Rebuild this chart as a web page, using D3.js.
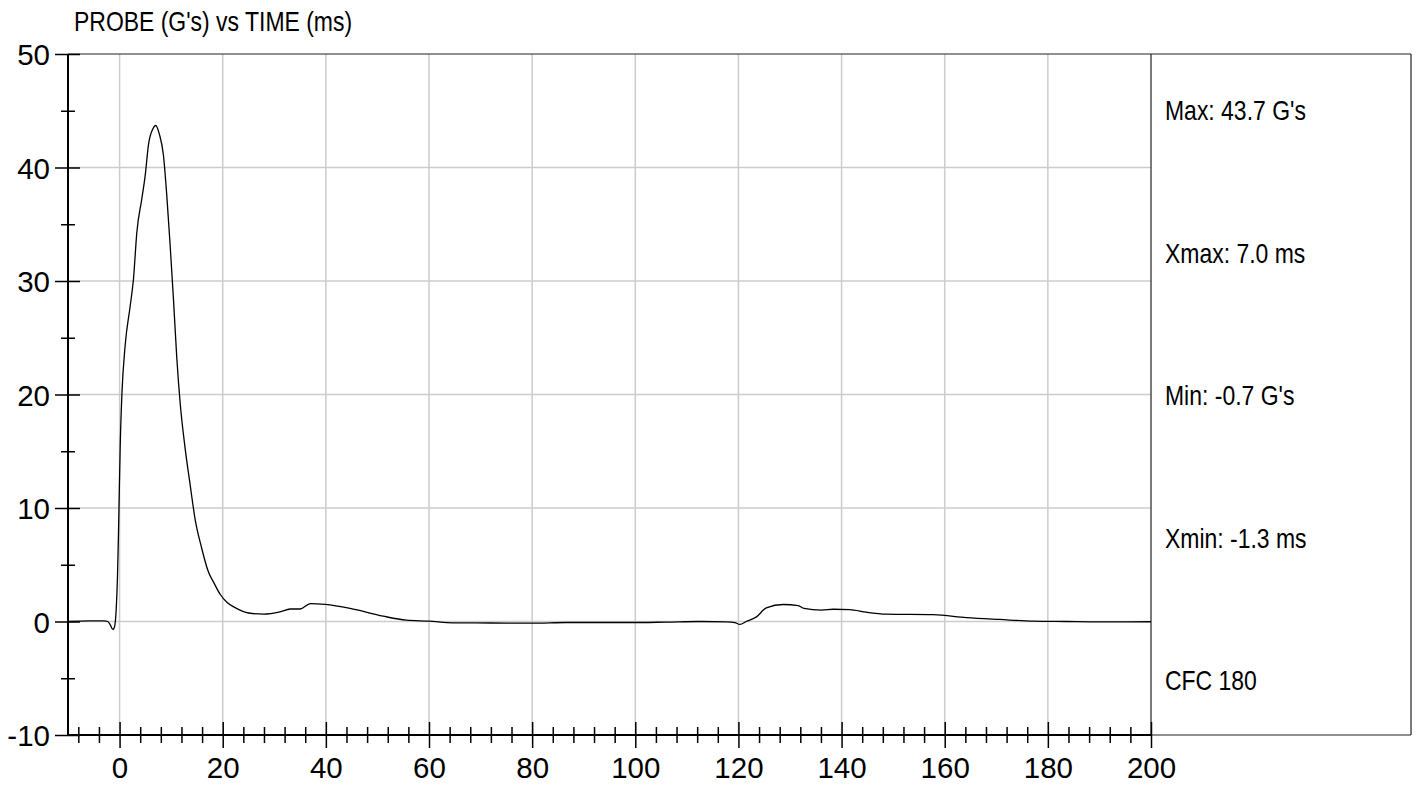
<!DOCTYPE html>
<html><head><meta charset="utf-8">
<script src="https://cdnjs.cloudflare.com/ajax/libs/d3/7.8.5/d3.min.js"></script>
<style>
html,body{margin:0;padding:0;background:#fff;}
svg{display:block;}
</style></head>
<body>
<svg id="chart" width="1416" height="785"></svg>
<script>
// ---- data ----
const title = "PROBE (G's) vs TIME (ms)";
const timeMs = [-10,-6,-3,-2.3,-1.8,-1.3,-1.0,-0.65,-0.4,-0.2,0.13,0.45,1.1,2.06,2.7,3.35,4.3,4.97,5.6,6.45,7.0,7.74,8.5,9.16,9.8,10.45,11.1,11.74,12.7,13.7,14.65,15.9,17.2,18.3,19.5,20.8,22.5,25,27.9,31.1,33.1,35.0,37.0,39.9,44.7,51.1,55.6,60,64.7,72,80.2,86.6,93,99.5,106,112.5,117.7,119.3,120.3,121.5,123.5,125.4,128.7,131.6,132.7,136.1,138.4,141.6,144.8,148.7,157.8,164.2,170.7,177.2,183.6,190,200];
const probeG = [0.0,0.05,0.05,0.0,-0.3,-0.7,-0.5,1.1,4.0,8.0,15.6,20.0,24.4,27.8,30.2,34.3,37.2,39.3,42.0,43.4,43.7,42.9,41.1,37.5,33.2,28.4,23.2,19.3,15.3,12.0,9.0,6.5,4.4,3.4,2.4,1.7,1.2,0.75,0.65,0.85,1.1,1.1,1.58,1.5,1.15,0.47,0.12,0.03,-0.12,-0.13,-0.15,-0.09,-0.09,-0.09,-0.05,0.0,-0.03,-0.1,-0.26,0.0,0.41,1.2,1.5,1.4,1.15,1.0,1.08,1.05,0.82,0.65,0.6,0.35,0.18,0.03,0.0,-0.03,-0.02];
const xMajorTicks = [0,20,40,60,80,100,120,140,160,180,200];
const xMinorTicks = [-8,-4,4,8,12,16,24,28,32,36,44,48,52,56,64,68,72,76,84,88,92,96,104,108,112,116,124,128,132,136,144,148,152,156,164,168,172,176,184,188,192,196];
const yMajorTicks = [-10,0,10,20,30,40,50];
const yMinorTicks = [-5,5,15,25,35,45];
const statLabels = ["Max: 43.7 G's","Xmax: 7.0 ms","Min: -0.7 G's","Xmin: -1.3 ms","CFC 180"];

// ---- layout ----
const svg = d3.select("#chart");
const L = 68, R = 1151, T = 54, B = 735, boxR = 1411;
const x = d3.scaleLinear().domain([-10,200]).range([L,R]);
const y = d3.scaleLinear().domain([-10,50]).range([B,T]);
const numFont = "'Liberation Sans', Arial, sans-serif";
const narrowScale = 0.82;
const tickFontSize = 29.5;

// gridlines
const grid = svg.append("g");
grid.selectAll("line.vg").data(xMajorTicks.filter(d=>d<200)).enter().append("line")
  .attr("x1",d=>x(d)).attr("x2",d=>x(d)).attr("y1",T).attr("y2",B)
  .attr("stroke","#cccccc").attr("stroke-width",1.5);
grid.selectAll("line.hg").data(yMajorTicks.filter(d=>d>-10 && d<50)).enter().append("line")
  .attr("x1",L).attr("x2",R).attr("y1",d=>y(d)).attr("y2",d=>y(d))
  .attr("stroke","#cccccc").attr("stroke-width",1.5);

// frame / stats box
svg.append("line").attr("x1",L).attr("x2",boxR).attr("y1",T).attr("y2",T).attr("stroke","#222").attr("stroke-width",1.2);
svg.append("line").attr("x1",R).attr("x2",R).attr("y1",T).attr("y2",B).attr("stroke","#222").attr("stroke-width",1.2);
svg.append("line").attr("x1",boxR).attr("x2",boxR).attr("y1",T).attr("y2",B).attr("stroke","#222").attr("stroke-width",1.2);
svg.append("line").attr("x1",R).attr("x2",boxR).attr("y1",B).attr("y2",B).attr("stroke","#222").attr("stroke-width",1.2);

// curve
const line = d3.line().x((d,i)=>x(timeMs[i])).y(d=>y(d)).curve(d3.curveMonotoneX);
svg.append("path").datum(probeG).attr("d",line)
  .attr("fill","none").attr("stroke","#000").attr("stroke-width",1.3);

// y axis
const yAxis = svg.append("g").attr("transform",`translate(${L},0)`)
  .call(d3.axisLeft(y).tickValues(yMajorTicks).tickFormat(d=>String(d)).tickSize(13).tickPadding(6));
yAxis.select(".domain").attr("stroke","#000").attr("stroke-width",2).attr("d",`M0,${T}V${B}`);
yAxis.selectAll(".tick line").attr("x1",12).attr("x2",-13).attr("stroke","#000").attr("stroke-width",1.5);
yAxis.selectAll(".tick text").attr("x",-18).attr("dy","0.37em").attr("font-family",numFont).attr("font-size",tickFontSize).attr("fill","#000");
const yMinor = svg.append("g").attr("transform",`translate(${L},0)`)
  .call(d3.axisLeft(y).tickValues(yMinorTicks).tickFormat("").tickSize(7));
yMinor.select(".domain").remove();
yMinor.selectAll(".tick line").attr("x1",7).attr("x2",-7).attr("stroke","#000").attr("stroke-width",1.5);

// x axis
const xAxis = svg.append("g").attr("transform",`translate(0,${B})`)
  .call(d3.axisBottom(x).tickValues(xMajorTicks).tickFormat(d=>String(d)).tickSize(13).tickPadding(9));
xAxis.select(".domain").attr("stroke","#000").attr("stroke-width",2).attr("d",`M${L},0H${R}`);
xAxis.selectAll(".tick line").attr("y1",-13).attr("y2",13).attr("stroke","#000").attr("stroke-width",1.5);
xAxis.selectAll(".tick text").attr("font-family",numFont).attr("font-size",tickFontSize).attr("fill","#000");
const xMinor = svg.append("g").attr("transform",`translate(0,${B})`)
  .call(d3.axisBottom(x).tickValues(xMinorTicks).tickFormat("").tickSize(8));
xMinor.select(".domain").remove();
xMinor.selectAll(".tick line").attr("y1",-8).attr("y2",8).attr("stroke","#000").attr("stroke-width",1.5);

// title (narrow: horizontally compressed Liberation Sans)
svg.append("text").attr("transform",`translate(74,31) scale(${narrowScale},1)`).text(title)
  .attr("font-family",numFont).attr("font-size",28).attr("fill","#000");

// stats
const statY = d3.scalePoint().domain(statLabels).range([120,690]);
svg.selectAll("text.stat").data(statLabels).enter().append("text")
  .attr("transform",d=>`translate(1165,${statY(d)}) scale(${narrowScale},1)`).text(d=>d)
  .attr("font-family",numFont).attr("font-size",28).attr("fill","#000");
</script>
</body></html>
